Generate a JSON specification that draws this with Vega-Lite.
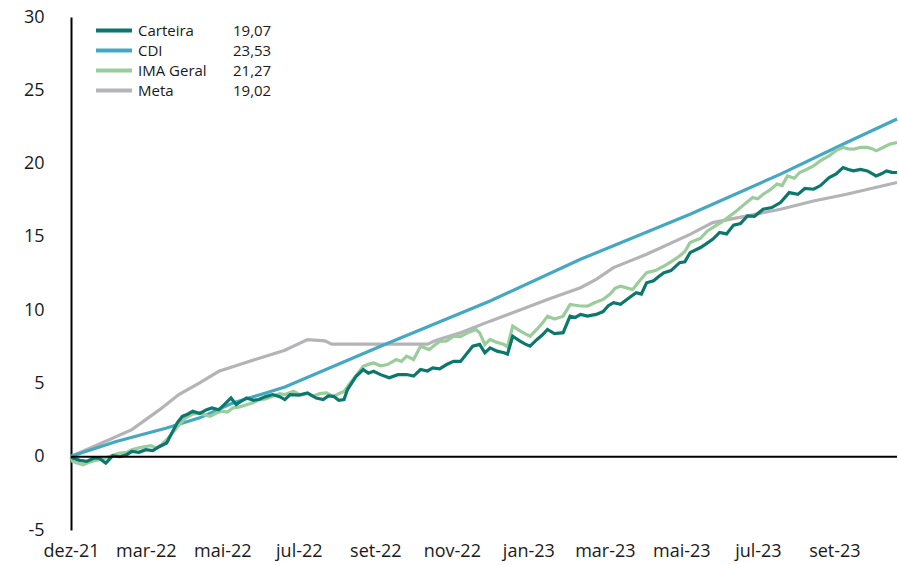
{
  "$schema": "https://vega.github.io/schema/vega-lite/v6.json",
  "width": 826,
  "height": 513,
  "autosize": {"type": "none"},
  "padding": {"left": 71, "top": 17, "right": 2, "bottom": 35},
  "background": "white",
  "config": {"view": {"stroke": null}, "font": "Open Sans"},
  "layer": [
    {
      "data": {"values": [
        {"s":"Meta","d":0,"v":0},{"s":"Meta","d":1,"v":0.07},{"s":"Meta","d":20,"v":1.05},{"s":"Meta","d":35,"v":1.85},{"s":"Meta","d":51,"v":3.21},{"s":"Meta","d":62,"v":4.24},{"s":"Meta","d":74,"v":5.04},{"s":"Meta","d":85,"v":5.83},{"s":"Meta","d":97,"v":6.29},{"s":"Meta","d":112,"v":6.86},{"s":"Meta","d":123,"v":7.27},{"s":"Meta","d":136,"v":7.99},{"s":"Meta","d":146,"v":7.9},{"s":"Meta","d":150,"v":7.68},{"s":"Meta","d":159,"v":7.68},{"s":"Meta","d":178,"v":7.68},{"s":"Meta","d":205,"v":7.68},{"s":"Meta","d":210,"v":7.95},{"s":"Meta","d":224,"v":8.45},{"s":"Meta","d":241,"v":9.25},{"s":"Meta","d":254,"v":9.82},{"s":"Meta","d":274,"v":10.73},{"s":"Meta","d":293,"v":11.53},{"s":"Meta","d":302,"v":12.1},{"s":"Meta","d":312,"v":12.9},{"s":"Meta","d":331,"v":13.81},{"s":"Meta","d":356,"v":15.17},{"s":"Meta","d":369,"v":15.97},{"s":"Meta","d":389,"v":16.43},{"s":"Meta","d":408,"v":16.88},{"s":"Meta","d":427,"v":17.45},{"s":"Meta","d":446,"v":17.91},{"s":"Meta","d":475,"v":18.71},
        {"s":"CDI","d":0,"v":0},{"s":"CDI","d":1,"v":0.07},{"s":"CDI","d":26,"v":1.04},{"s":"CDI","d":55,"v":1.96},{"s":"CDI","d":74,"v":2.65},{"s":"CDI","d":93,"v":3.67},{"s":"CDI","d":112,"v":4.35},{"s":"CDI","d":123,"v":4.76},{"s":"CDI","d":178,"v":7.54},{"s":"CDI","d":241,"v":10.62},{"s":"CDI","d":293,"v":13.47},{"s":"CDI","d":356,"v":16.54},{"s":"CDI","d":408,"v":19.28},{"s":"CDI","d":446,"v":21.44},{"s":"CDI","d":475,"v":23.04},
        {"s":"IMA Geral","d":0,"v":0},{"s":"IMA Geral","d":1,"v":-0.32},{"s":"IMA Geral","d":4,"v":-0.45},{"s":"IMA Geral","d":7,"v":-0.55},{"s":"IMA Geral","d":10,"v":-0.4},{"s":"IMA Geral","d":12,"v":-0.32},{"s":"IMA Geral","d":16,"v":-0.2},{"s":"IMA Geral","d":20,"v":-0.09},{"s":"IMA Geral","d":24,"v":0.1},{"s":"IMA Geral","d":28,"v":0.25},{"s":"IMA Geral","d":32,"v":0.3},{"s":"IMA Geral","d":35,"v":0.48},{"s":"IMA Geral","d":39,"v":0.6},{"s":"IMA Geral","d":43,"v":0.7},{"s":"IMA Geral","d":46,"v":0.75},{"s":"IMA Geral","d":49,"v":0.59},{"s":"IMA Geral","d":52,"v":0.8},{"s":"IMA Geral","d":55,"v":1.16},{"s":"IMA Geral","d":60,"v":1.85},{"s":"IMA Geral","d":63,"v":2.3},{"s":"IMA Geral","d":66,"v":2.65},{"s":"IMA Geral","d":70,"v":2.9},{"s":"IMA Geral","d":74,"v":2.99},{"s":"IMA Geral","d":77,"v":2.85},{"s":"IMA Geral","d":80,"v":2.75},{"s":"IMA Geral","d":84,"v":3.0},{"s":"IMA Geral","d":87,"v":3.1},{"s":"IMA Geral","d":90,"v":3.05},{"s":"IMA Geral","d":93,"v":3.33},{"s":"IMA Geral","d":97,"v":3.4},{"s":"IMA Geral","d":101,"v":3.55},{"s":"IMA Geral","d":105,"v":3.7},{"s":"IMA Geral","d":108,"v":3.9},{"s":"IMA Geral","d":112,"v":3.95},{"s":"IMA Geral","d":116,"v":4.12},{"s":"IMA Geral","d":120,"v":4.3},{"s":"IMA Geral","d":123,"v":4.24},{"s":"IMA Geral","d":128,"v":4.46},{"s":"IMA Geral","d":132,"v":4.2},{"s":"IMA Geral","d":136,"v":4.3},{"s":"IMA Geral","d":139,"v":4.12},{"s":"IMA Geral","d":143,"v":4.3},{"s":"IMA Geral","d":147,"v":4.35},{"s":"IMA Geral","d":151,"v":4.1},{"s":"IMA Geral","d":154,"v":4.3},{"s":"IMA Geral","d":157,"v":4.46},{"s":"IMA Geral","d":162,"v":5.26},{"s":"IMA Geral","d":165,"v":5.7},{"s":"IMA Geral","d":168,"v":6.17},{"s":"IMA Geral","d":171,"v":6.3},{"s":"IMA Geral","d":174,"v":6.4},{"s":"IMA Geral","d":178,"v":6.2},{"s":"IMA Geral","d":182,"v":6.29},{"s":"IMA Geral","d":187,"v":6.63},{"s":"IMA Geral","d":190,"v":6.5},{"s":"IMA Geral","d":193,"v":6.86},{"s":"IMA Geral","d":197,"v":6.63},{"s":"IMA Geral","d":201,"v":7.54},{"s":"IMA Geral","d":206,"v":7.31},{"s":"IMA Geral","d":209,"v":7.6},{"s":"IMA Geral","d":212,"v":7.87},{"s":"IMA Geral","d":216,"v":7.9},{"s":"IMA Geral","d":220,"v":8.22},{"s":"IMA Geral","d":224,"v":8.2},{"s":"IMA Geral","d":228,"v":8.45},{"s":"IMA Geral","d":233,"v":8.68},{"s":"IMA Geral","d":235,"v":8.45},{"s":"IMA Geral","d":238,"v":7.66},{"s":"IMA Geral","d":241,"v":8.0},{"s":"IMA Geral","d":245,"v":7.8},{"s":"IMA Geral","d":249,"v":7.66},{"s":"IMA Geral","d":251,"v":7.5},{"s":"IMA Geral","d":254,"v":8.91},{"s":"IMA Geral","d":258,"v":8.6},{"s":"IMA Geral","d":261,"v":8.4},{"s":"IMA Geral","d":264,"v":8.22},{"s":"IMA Geral","d":268,"v":8.7},{"s":"IMA Geral","d":271,"v":9.1},{"s":"IMA Geral","d":274,"v":9.59},{"s":"IMA Geral","d":278,"v":9.4},{"s":"IMA Geral","d":283,"v":9.59},{"s":"IMA Geral","d":287,"v":10.39},{"s":"IMA Geral","d":292,"v":10.3},{"s":"IMA Geral","d":297,"v":10.27},{"s":"IMA Geral","d":301,"v":10.5},{"s":"IMA Geral","d":306,"v":10.73},{"s":"IMA Geral","d":310,"v":11.1},{"s":"IMA Geral","d":313,"v":11.5},{"s":"IMA Geral","d":316,"v":11.64},{"s":"IMA Geral","d":320,"v":11.5},{"s":"IMA Geral","d":323,"v":11.41},{"s":"IMA Geral","d":327,"v":12.0},{"s":"IMA Geral","d":331,"v":12.56},{"s":"IMA Geral","d":336,"v":12.7},{"s":"IMA Geral","d":341,"v":13.01},{"s":"IMA Geral","d":345,"v":13.3},{"s":"IMA Geral","d":350,"v":13.69},{"s":"IMA Geral","d":353,"v":14.0},{"s":"IMA Geral","d":356,"v":14.61},{"s":"IMA Geral","d":362,"v":14.9},{"s":"IMA Geral","d":366,"v":15.4},{"s":"IMA Geral","d":369,"v":15.63},{"s":"IMA Geral","d":374,"v":16.0},{"s":"IMA Geral","d":379,"v":16.43},{"s":"IMA Geral","d":383,"v":16.8},{"s":"IMA Geral","d":387,"v":17.2},{"s":"IMA Geral","d":392,"v":17.68},{"s":"IMA Geral","d":395,"v":17.6},{"s":"IMA Geral","d":398,"v":17.91},{"s":"IMA Geral","d":402,"v":18.2},{"s":"IMA Geral","d":406,"v":18.6},{"s":"IMA Geral","d":409,"v":18.5},{"s":"IMA Geral","d":412,"v":19.16},{"s":"IMA Geral","d":416,"v":19.0},{"s":"IMA Geral","d":419,"v":19.39},{"s":"IMA Geral","d":423,"v":19.6},{"s":"IMA Geral","d":427,"v":19.84},{"s":"IMA Geral","d":431,"v":20.2},{"s":"IMA Geral","d":436,"v":20.53},{"s":"IMA Geral","d":440,"v":20.9},{"s":"IMA Geral","d":444,"v":21.1},{"s":"IMA Geral","d":447,"v":21.0},{"s":"IMA Geral","d":450,"v":20.98},{"s":"IMA Geral","d":454,"v":21.1},{"s":"IMA Geral","d":458,"v":21.1},{"s":"IMA Geral","d":461,"v":21.0},{"s":"IMA Geral","d":463,"v":20.87},{"s":"IMA Geral","d":467,"v":21.1},{"s":"IMA Geral","d":471,"v":21.33},{"s":"IMA Geral","d":475,"v":21.44},
        {"s":"Carteira","d":0,"v":0},{"s":"Carteira","d":1,"v":-0.09},{"s":"Carteira","d":5,"v":-0.25},{"s":"Carteira","d":9,"v":-0.32},{"s":"Carteira","d":13,"v":-0.1},{"s":"Carteira","d":16,"v":-0.09},{"s":"Carteira","d":20,"v":-0.43},{"s":"Carteira","d":24,"v":0.07},{"s":"Carteira","d":28,"v":0.0},{"s":"Carteira","d":32,"v":0.14},{"s":"Carteira","d":35,"v":0.36},{"s":"Carteira","d":39,"v":0.3},{"s":"Carteira","d":43,"v":0.48},{"s":"Carteira","d":47,"v":0.42},{"s":"Carteira","d":51,"v":0.7},{"s":"Carteira","d":55,"v":0.94},{"s":"Carteira","d":58,"v":1.61},{"s":"Carteira","d":61,"v":2.3},{"s":"Carteira","d":64,"v":2.75},{"s":"Carteira","d":67,"v":2.9},{"s":"Carteira","d":70,"v":3.1},{"s":"Carteira","d":74,"v":2.95},{"s":"Carteira","d":78,"v":3.21},{"s":"Carteira","d":81,"v":3.33},{"s":"Carteira","d":85,"v":3.2},{"s":"Carteira","d":89,"v":3.66},{"s":"Carteira","d":92,"v":4.01},{"s":"Carteira","d":95,"v":3.55},{"s":"Carteira","d":98,"v":3.8},{"s":"Carteira","d":101,"v":4.01},{"s":"Carteira","d":105,"v":3.85},{"s":"Carteira","d":108,"v":3.9},{"s":"Carteira","d":112,"v":4.1},{"s":"Carteira","d":116,"v":4.24},{"s":"Carteira","d":120,"v":4.1},{"s":"Carteira","d":123,"v":3.9},{"s":"Carteira","d":126,"v":4.24},{"s":"Carteira","d":131,"v":4.2},{"s":"Carteira","d":136,"v":4.35},{"s":"Carteira","d":141,"v":4.0},{"s":"Carteira","d":145,"v":3.9},{"s":"Carteira","d":148,"v":4.15},{"s":"Carteira","d":151,"v":4.12},{"s":"Carteira","d":154,"v":3.85},{"s":"Carteira","d":157,"v":3.9},{"s":"Carteira","d":159,"v":4.58},{"s":"Carteira","d":164,"v":5.49},{"s":"Carteira","d":168,"v":5.95},{"s":"Carteira","d":171,"v":5.7},{"s":"Carteira","d":174,"v":5.83},{"s":"Carteira","d":178,"v":5.6},{"s":"Carteira","d":183,"v":5.38},{"s":"Carteira","d":188,"v":5.6},{"s":"Carteira","d":193,"v":5.61},{"s":"Carteira","d":197,"v":5.5},{"s":"Carteira","d":201,"v":5.95},{"s":"Carteira","d":205,"v":5.85},{"s":"Carteira","d":208,"v":6.06},{"s":"Carteira","d":212,"v":6.0},{"s":"Carteira","d":216,"v":6.29},{"s":"Carteira","d":220,"v":6.51},{"s":"Carteira","d":224,"v":6.5},{"s":"Carteira","d":228,"v":7.09},{"s":"Carteira","d":231,"v":7.54},{"s":"Carteira","d":235,"v":7.66},{"s":"Carteira","d":238,"v":7.09},{"s":"Carteira","d":241,"v":7.43},{"s":"Carteira","d":245,"v":7.2},{"s":"Carteira","d":249,"v":7.09},{"s":"Carteira","d":251,"v":7.0},{"s":"Carteira","d":254,"v":8.22},{"s":"Carteira","d":258,"v":7.9},{"s":"Carteira","d":261,"v":7.7},{"s":"Carteira","d":264,"v":7.54},{"s":"Carteira","d":268,"v":8.0},{"s":"Carteira","d":271,"v":8.3},{"s":"Carteira","d":274,"v":8.68},{"s":"Carteira","d":278,"v":8.4},{"s":"Carteira","d":283,"v":8.46},{"s":"Carteira","d":287,"v":9.59},{"s":"Carteira","d":290,"v":9.5},{"s":"Carteira","d":293,"v":9.71},{"s":"Carteira","d":297,"v":9.6},{"s":"Carteira","d":302,"v":9.71},{"s":"Carteira","d":306,"v":9.9},{"s":"Carteira","d":309,"v":10.3},{"s":"Carteira","d":312,"v":10.51},{"s":"Carteira","d":316,"v":10.4},{"s":"Carteira","d":321,"v":10.85},{"s":"Carteira","d":325,"v":11.19},{"s":"Carteira","d":328,"v":11.1},{"s":"Carteira","d":331,"v":11.87},{"s":"Carteira","d":335,"v":12.0},{"s":"Carteira","d":338,"v":12.3},{"s":"Carteira","d":341,"v":12.56},{"s":"Carteira","d":345,"v":12.7},{"s":"Carteira","d":350,"v":13.24},{"s":"Carteira","d":353,"v":13.3},{"s":"Carteira","d":356,"v":13.92},{"s":"Carteira","d":362,"v":14.27},{"s":"Carteira","d":365,"v":14.5},{"s":"Carteira","d":369,"v":14.83},{"s":"Carteira","d":373,"v":15.3},{"s":"Carteira","d":377,"v":15.2},{"s":"Carteira","d":381,"v":15.8},{"s":"Carteira","d":385,"v":15.9},{"s":"Carteira","d":389,"v":16.43},{"s":"Carteira","d":393,"v":16.4},{"s":"Carteira","d":398,"v":16.88},{"s":"Carteira","d":403,"v":17.0},{"s":"Carteira","d":408,"v":17.34},{"s":"Carteira","d":413,"v":18.02},{"s":"Carteira","d":418,"v":17.9},{"s":"Carteira","d":422,"v":18.3},{"s":"Carteira","d":427,"v":18.25},{"s":"Carteira","d":431,"v":18.5},{"s":"Carteira","d":436,"v":19.05},{"s":"Carteira","d":440,"v":19.3},{"s":"Carteira","d":444,"v":19.73},{"s":"Carteira","d":447,"v":19.6},{"s":"Carteira","d":450,"v":19.5},{"s":"Carteira","d":454,"v":19.6},{"s":"Carteira","d":458,"v":19.5},{"s":"Carteira","d":463,"v":19.16},{"s":"Carteira","d":466,"v":19.3},{"s":"Carteira","d":469,"v":19.5},{"s":"Carteira","d":472,"v":19.4},{"s":"Carteira","d":475,"v":19.39}
      ]},
      "transform": [{"calculate": "{'Carteira':'19,07','CDI':'23,53','IMA Geral':'21,27','Meta':'19,02'}[datum.s]", "as": "valor"}],
      "mark": {"type": "line", "strokeWidth": 3.2},
      "encoding": {
        "x": {
          "field": "d", "type": "quantitative",
          "scale": {"domain": [0, 475], "nice": false, "zero": false},
          "axis": {
            "values": [0, 43, 87, 131, 175, 219, 263, 307, 351, 395, 439],
            "labelExpr": "['dez-21','mar-22','mai-22','jul-22','set-22','nov-22','jan-23','mar-23','mai-23','jul-23','set-23'][indexof([0,43,87,131,175,219,263,307,351,395,439], datum.value)]",
            "title": null, "grid": false, "ticks": false, "domain": false,
            "labelFontSize": 18, "labelFont": "Open Sans", "labelColor": "#1a1a1a",
            "labelPadding": 12, "labelFlush": false, "labelOverlap": false
          }
        },
        "y": {
          "field": "v", "type": "quantitative",
          "scale": {"domain": [-5, 30], "nice": false, "zero": false},
          "axis": {
            "values": [-5, 0, 5, 10, 15, 20, 25, 30],
            "labelExpr": "'' + datum.value",
            "title": null, "grid": false, "ticks": false, "tickSize": 0,
            "domain": true, "domainColor": "#000000", "domainWidth": 2,
            "labelFontSize": 18, "labelFont": "Open Sans", "labelColor": "#1a1a1a",
            "labelPadding": 27
          }
        },
        "color": {
          "field": "s", "type": "nominal",
          "scale": {"domain": ["Carteira", "CDI", "IMA Geral", "Meta"], "range": ["#0b776d", "#45a8c3", "#9acd9b", "#b4b4b8"]},
          "legend": {
            "orient": "none", "legendX": 35, "legendY": 5.5, "title": null,
            "symbolType": "M-3,0H3", "symbolSize": 144, "symbolStrokeWidth": 4,
            "labelFontSize": 15, "labelFont": "Open Sans", "labelColor": "#1a1a1a",
            "labelOffset": 16, "rowPadding": 4, "padding": 0, "labelLimit": 200
          }
        },
        "opacity": {
          "field": "valor", "type": "nominal",
          "scale": {"type": "ordinal", "domain": ["19,07", "23,53", "21,27", "19,02"], "range": [1, 1, 1, 1]},
          "legend": {
            "orient": "none", "legendX": 130, "legendY": 5.5, "title": null,
            "symbolType": "M-3,0H3", "symbolSize": 144, "symbolStrokeWidth": 4,
            "symbolStrokeColor": "transparent",
            "labelFontSize": 15, "labelFont": "Open Sans", "labelColor": "#1a1a1a",
            "labelOffset": 16, "rowPadding": 4, "padding": 0, "labelLimit": 200,
            "encode": {"symbols": {"update": {"opacity": {"value": 0}, "strokeOpacity": {"value": 0}, "stroke": {"value": "transparent"}}}}
          }
        }
      }
    },
    {
      "data": {"values": [{"z": 0}]},
      "mark": {"type": "rule", "color": "#000000", "strokeWidth": 2},
      "encoding": {"y": {"field": "z", "type": "quantitative"}}
    }
  ]
}
